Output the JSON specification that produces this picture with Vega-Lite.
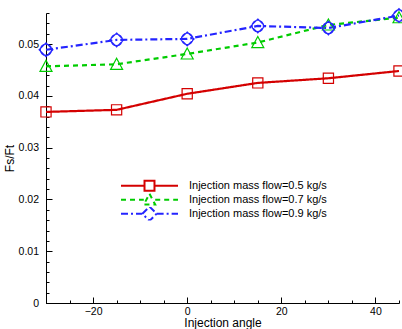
{
  "$schema": "https://vega.github.io/schema/vega-lite/v6.json",
  "width": 353,
  "height": 290,
  "autosize": {"type": "none"},
  "padding": {"left": 46, "top": 13, "right": 3, "bottom": 26},
  "config": {
    "view": {"stroke": null},
    "font": "Liberation Sans",
    "axis": {"grid": false, "domainColor": "black", "tickColor": "black", "labelColor": "black", "titleColor": "black", "labelFont": "Liberation Sans", "titleFont": "Liberation Sans", "titleFontWeight": "normal", "labelFontSize": 10.5, "titleFontSize": 12}
  },
  "data": {
    "values": [
      {"series": "Injection mass flow=0.5 kg/s", "angle": -30, "fs": 0.0369},
      {"series": "Injection mass flow=0.5 kg/s", "angle": -15, "fs": 0.0373},
      {"series": "Injection mass flow=0.5 kg/s", "angle": 0, "fs": 0.0404},
      {"series": "Injection mass flow=0.5 kg/s", "angle": 15, "fs": 0.0425},
      {"series": "Injection mass flow=0.5 kg/s", "angle": 30, "fs": 0.0434},
      {"series": "Injection mass flow=0.5 kg/s", "angle": 45, "fs": 0.0448},
      {"series": "Injection mass flow=0.7 kg/s", "angle": -30, "fs": 0.0457},
      {"series": "Injection mass flow=0.7 kg/s", "angle": -15, "fs": 0.0461},
      {"series": "Injection mass flow=0.7 kg/s", "angle": 0, "fs": 0.0481},
      {"series": "Injection mass flow=0.7 kg/s", "angle": 15, "fs": 0.0503},
      {"series": "Injection mass flow=0.7 kg/s", "angle": 30, "fs": 0.0537},
      {"series": "Injection mass flow=0.7 kg/s", "angle": 45, "fs": 0.0551},
      {"series": "Injection mass flow=0.9 kg/s", "angle": -30, "fs": 0.0489},
      {"series": "Injection mass flow=0.9 kg/s", "angle": -15, "fs": 0.0508},
      {"series": "Injection mass flow=0.9 kg/s", "angle": 0, "fs": 0.0510},
      {"series": "Injection mass flow=0.9 kg/s", "angle": 15, "fs": 0.0535},
      {"series": "Injection mass flow=0.9 kg/s", "angle": 30, "fs": 0.0531},
      {"series": "Injection mass flow=0.9 kg/s", "angle": 45, "fs": 0.0555}
    ]
  },
  "layer": [
    {
      "mark": {"type": "line", "strokeWidth": 2.2},
      "encoding": {
        "x": {"field": "angle", "type": "quantitative", "scale": {"domain": [-30, 45], "nice": false, "zero": false},
          "axis": {"title": "Injection angle", "values": [-20, 0, 20, 40], "tickSize": -6, "labelPadding": 9, "titlePadding": 1, "orient": "bottom"}},
        "y": {"field": "fs", "type": "quantitative", "scale": {"domain": [0, 0.056], "nice": false},
          "axis": {"title": "Fs/Ft", "values": [0, 0.01, 0.02, 0.03, 0.04, 0.05], "format": ".2~f", "tickSize": -6, "labelPadding": 13.5, "titlePadding": 2, "orient": "left"}},
        "color": {"field": "series", "type": "nominal", "scale": {"range": ["#d40000", "#00cc00", "#2424ff"]},
          "legend": {"title": null, "orient": "none", "legendX": 74, "legendY": 166, "symbolSize": 3249, "clipHeight": 13.5, "rowPadding": 0, "padding": 0, "labelFontSize": 11, "labelOffset": 10, "labelLimit": 300, "symbolStrokeWidth": 2,
            "encode": {"symbols": {"update": {"fill": {"value": "transparent"}, "opacity": {"value": 1}, "strokeDash": {"scale": "strokeDash", "field": "value"}, "shape": {"signal": "indexof(datum.value,'0.5')>=0 ? 'M-1,0H-0.175M0.175,0H1M-0.175,-0.175H0.175V0.175H-0.175Z' : indexof(datum.value,'0.7')>=0 ? 'M-1,0H-0.2M0.2,0H1M0,-0.21L0.2,0.17H-0.2Z' : 'M-1,0H-0.25M0.25,0H1M0,-0.25L0.25,0L0,0.25L-0.25,0Z'"}}}}}},
        "strokeDash": {"field": "series", "type": "nominal", "scale": {"range": [[1, 0], [5, 4], [7, 3, 2, 3]]}, "legend": null}
      }
    },
    {
      "mark": {"type": "point", "filled": false, "size": 144, "strokeWidth": 1.2, "opacity": 1},
      "encoding": {
        "x": {"field": "angle", "type": "quantitative",
          "axis": {"title": null, "values": [-30, -25, -20, -15, -10, -5, 0, 5, 10, 15, 20, 25, 30, 35, 40, 45], "labels": false, "domain": false, "tickSize": -3, "orient": "bottom"}},
        "y": {"field": "fs", "type": "quantitative",
          "axis": {"title": null, "values": [0, 0.002, 0.004, 0.006, 0.008, 0.01, 0.012, 0.014, 0.016, 0.018, 0.02, 0.022, 0.024, 0.026, 0.028, 0.03, 0.032, 0.034, 0.036, 0.038, 0.04, 0.042, 0.044, 0.046, 0.048, 0.05, 0.052, 0.054, 0.056], "labels": false, "domain": false, "tickSize": -3, "orient": "left"}},
        "color": {"field": "series", "type": "nominal", "legend": null},
        "shape": {"field": "series", "type": "nominal", "legend": null,
          "scale": {"range": ["M-0.85,-0.85H0.85V0.85H-0.85Z", "M0,-1L1,0.85H-1Z", "M0,-1.15L1.15,0L0,1.15L-1.15,0Z M0.95,0A0.95,0.95,0,1,1,-0.95,0A0.95,0.95,0,1,1,0.95,0Z"]}}
      }
    }
  ],
  "resolve": {"axis": {"x": "independent", "y": "independent"}}
}
